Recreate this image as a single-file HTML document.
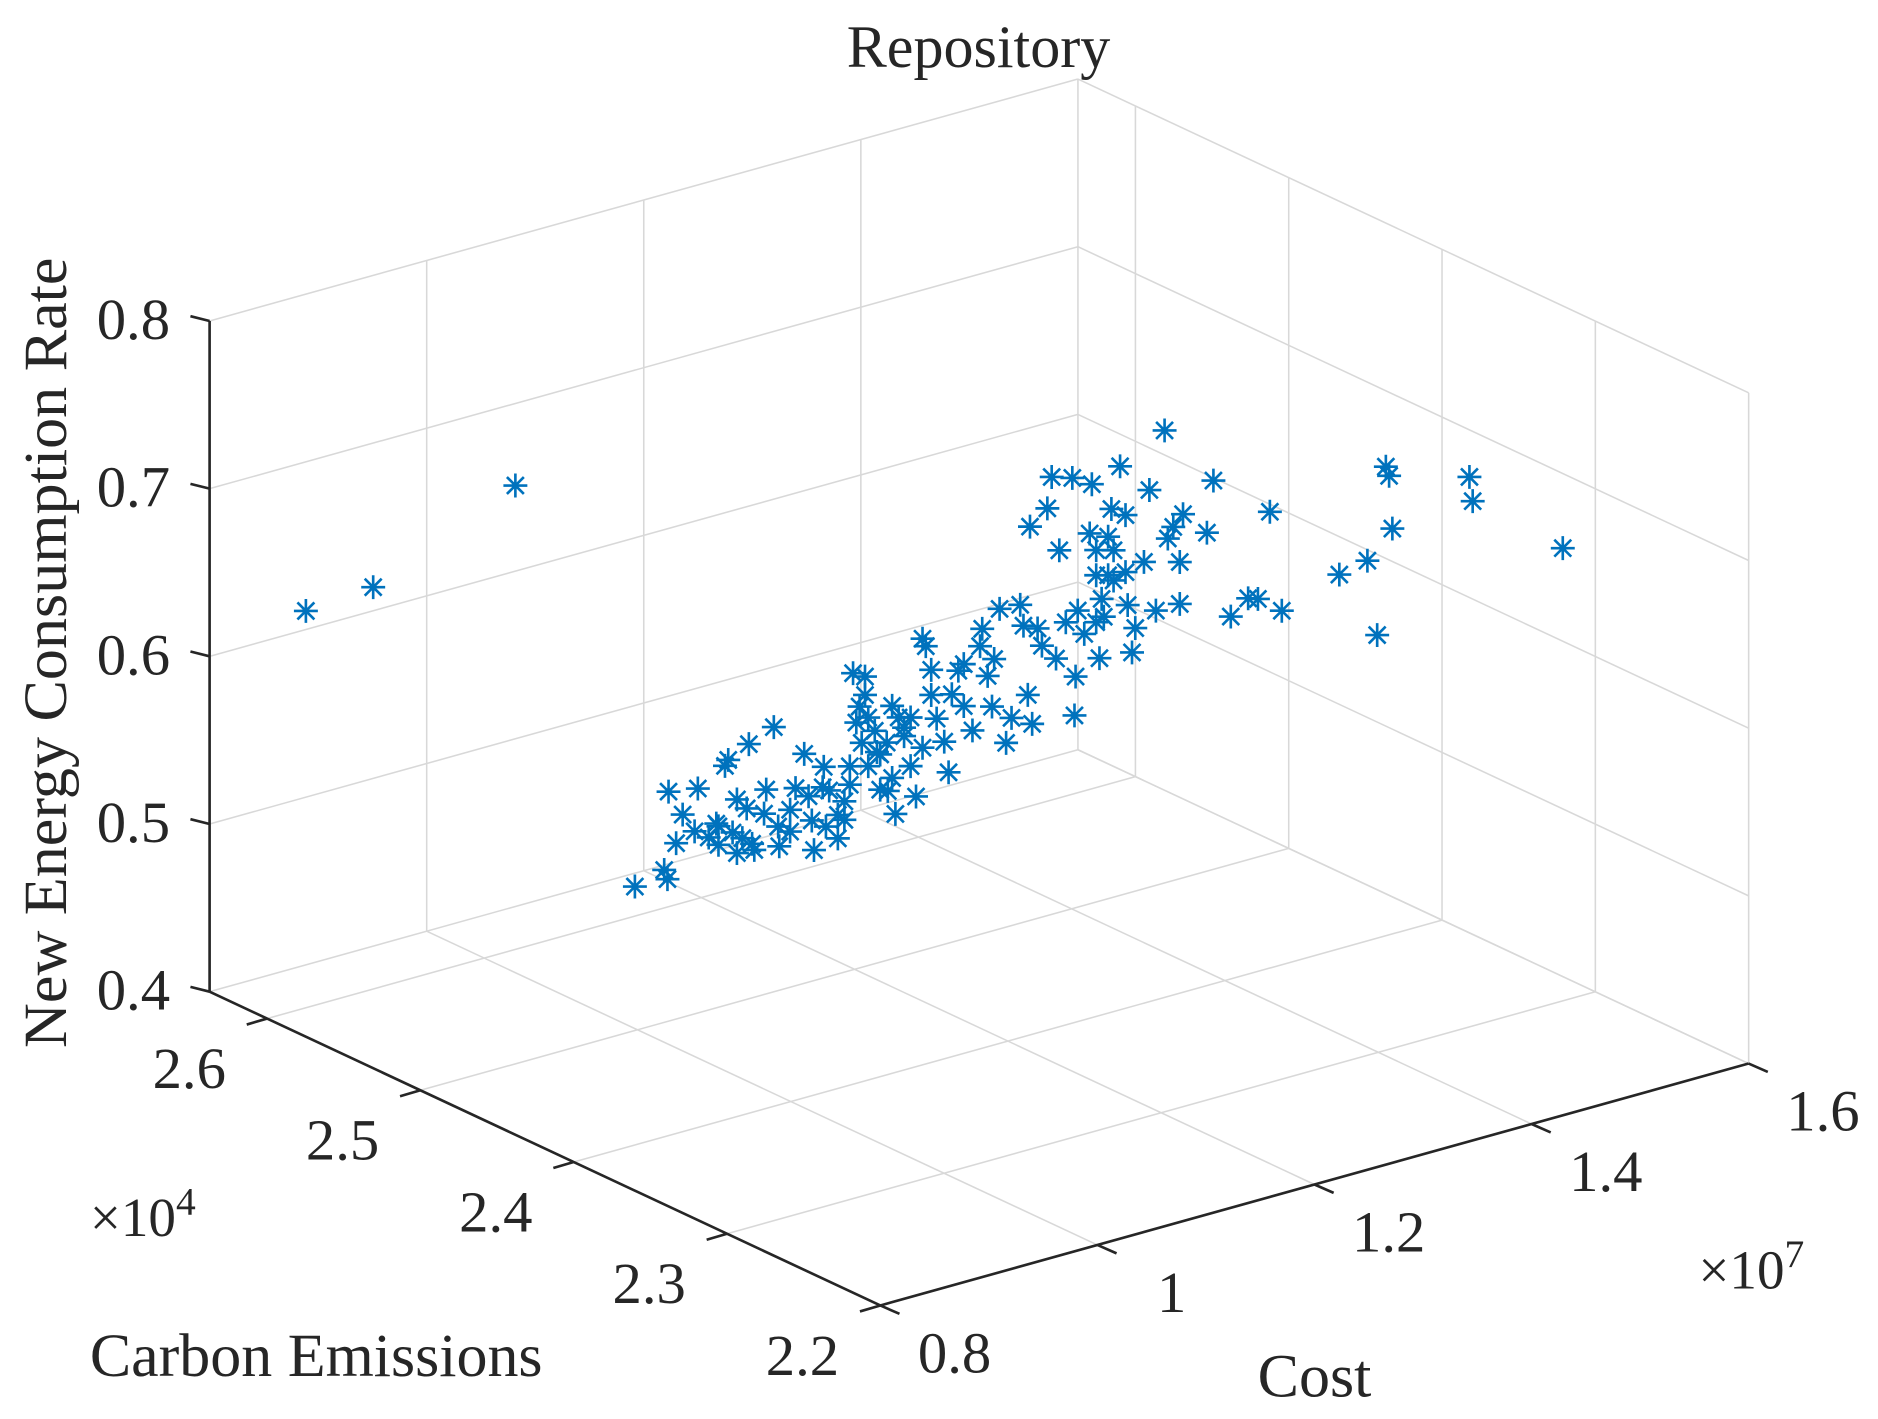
<!DOCTYPE html>
<html><head><meta charset="utf-8"><title>Repository</title>
<style>
html,body{margin:0;padding:0;background:#fff;}
svg{display:block;}
text{font-family:"Liberation Serif","DejaVu Serif",serif;fill:#262626;}
</style></head>
<body>
<svg id="chart" width="1878" height="1419" viewBox="0 0 1568 1184.8" preserveAspectRatio="none" xmlns="http://www.w3.org/2000/svg">
<rect x="0" y="0" width="1568" height="1184.8" fill="#fff"/>
<g id="grid"></g>
<g id="axes"></g>
<g id="labels"></g>
<g id="marks"></g>
<text x="817" y="56" font-size="50" text-anchor="middle" textLength="220" lengthAdjust="spacingAndGlyphs">Repository</text>
<text transform="translate(55,545) rotate(-90)" font-size="51" text-anchor="middle" textLength="660" lengthAdjust="spacingAndGlyphs">New Energy Consumption Rate</text>
<text x="75" y="1149" font-size="51" textLength="378" lengthAdjust="spacingAndGlyphs">Carbon Emissions</text>
<text x="1050" y="1166" font-size="51" textLength="95" lengthAdjust="spacingAndGlyphs">Cost</text>
<text x="75" y="1032" font-size="46">×10<tspan dy="-18" font-size="33">4</tspan></text>
<text x="1418" y="1076" font-size="46">×10<tspan dy="-18" font-size="33">7</tspan></text>
</svg>
<script>
// Axis limits
const costLim = [0.8, 1.6];
const carbonLim = [2.2, 2.6375];
const rateLim = [0.4, 0.8];
// Tick labels
const costTicks = [0.8, 1.0, 1.2, 1.4, 1.6];
const costTickLabels = ["0.8", "1", "1.2", "1.4", "1.6"];
const carbonTicks = [2.2, 2.3, 2.4, 2.5, 2.6];
const carbonTickLabels = ["2.2", "2.3", "2.4", "2.5", "2.6"];
const rateTicks = [0.4, 0.5, 0.6, 0.7, 0.8];
const rateTickLabels = ["0.4", "0.5", "0.6", "0.7", "0.8"];
// Data series (cost x1e7, carbon x1e4, rate)
const costData = [0.864,0.926,1.057,
0.927,0.954,0.957,0.965,0.958,0.971,0.985,1.002,1.010,1.013,1.032,1.055,0.995,1.004,1.021,1.017,1.026,1.035,1.037,1.021,1.046,1.070,1.075,1.083,1.092,1.101,1.106,1.103,1.114,1.120,1.125,1.128,1.139,1.139,1.131,1.136,1.142,1.148,1.153,1.159,1.164,1.167,1.170,1.175,1.181,1.186,1.192,1.195,1.200,1.205,1.212,1.216,1.219,1.225,1.230,1.238,1.245,1.247,1.252,1.256,1.263,1.258,1.269,1.274,1.282,1.285,1.289,1.293,1.291,1.298,1.302,1.311,1.307,1.318,1.315,1.324,1.330,1.333,1.332,1.341,1.346,1.348,1.352,1.355,1.357,1.359,1.363,1.366,1.368,1.374,1.379,1.379,1.381,1.385,1.388,1.396,1.401,1.407,1.415,1.418,1.423,1.429,1.429,1.432,1.454,1.460,1.476,1.492,1.501,1.512,1.523,1.576,
1.390,1.399,1.407,1.410,1.413,1.484,1.487,1.570,
1.335,1.352,1.368,1.059,1.087,1.114,1.134,1.153,1.181,1.164,1.048,1.004,0.982,1.142,1.192,1.230,1.352,1.363,
1.070,1.100,1.125,1.150,1.175,1.200,1.090,1.120,1.160,1.030,1.060];
const carbonData = [2.62,2.62,2.62,
2.45,2.45,2.45,2.45,2.45,2.45,2.45,2.45,2.45,2.45,2.45,2.45,2.45,2.45,2.45,2.45,2.45,2.45,2.45,2.45,2.45,2.45,2.45,2.45,2.45,2.45,2.45,2.45,2.45,2.45,2.45,2.45,2.45,2.45,2.45,2.45,2.45,2.45,2.45,2.45,2.45,2.45,2.45,2.45,2.45,2.45,2.45,2.45,2.45,2.45,2.45,2.45,2.45,2.45,2.45,2.45,2.45,2.45,2.45,2.45,2.45,2.45,2.45,2.45,2.45,2.45,2.45,2.45,2.45,2.45,2.45,2.45,2.45,2.45,2.45,2.45,2.45,2.45,2.45,2.45,2.45,2.45,2.45,2.45,2.45,2.45,2.45,2.45,2.45,2.45,2.45,2.45,2.45,2.45,2.45,2.45,2.45,2.45,2.45,2.45,2.45,2.45,2.45,2.45,2.45,2.45,2.45,2.45,2.45,2.45,2.45,2.45,
2.30,2.30,2.30,2.30,2.30,2.30,2.30,2.30,
2.45,2.45,2.45,2.45,2.45,2.45,2.45,2.45,2.45,2.45,2.45,2.45,2.45,2.45,2.45,2.45,2.45,2.45,
2.45,2.45,2.45,2.45,2.45,2.45,2.45,2.45,2.45,2.45,2.45];
const rateData = [0.623,0.626,0.663,
0.520,0.525,0.519,0.539,0.571,0.555,0.568,0.544,0.577,0.580,0.586,0.592,0.537,0.542,0.555,0.536,0.531,0.526,0.522,0.523,0.542,0.527,0.552,0.571,0.512,0.560,0.545,0.524,0.529,0.536,0.545,0.611,0.607,0.596,0.581,0.568,0.553,0.573,0.558,0.564,0.542,0.520,0.577,0.565,0.546,0.527,0.620,0.615,0.600,0.570,0.555,0.536,0.582,0.595,0.573,0.557,0.606,0.616,0.587,0.568,0.625,0.596,0.544,0.558,0.624,0.611,0.569,0.551,0.669,0.607,0.596,0.695,0.677,0.650,0.586,0.606,0.691,0.572,0.549,0.596,0.655,0.684,0.629,0.579,0.614,0.603,0.627,0.666,0.641,0.690,0.660,0.626,0.606,0.577,0.591,0.629,0.671,0.598,0.704,0.639,0.645,0.598,0.623,0.651,0.636,0.666,0.582,0.590,0.588,0.638,0.577,0.589,
0.695,0.649,0.748,0.742,0.710,0.728,0.713,0.670,
0.611,0.601,0.623,0.532,0.545,0.515,0.590,0.537,0.575,0.585,0.556,0.531,0.543,0.582,0.555,0.598,0.644,0.650,
0.540,0.548,0.556,0.560,0.570,0.585,0.530,0.525,0.535,0.548,0.520];

const NS = "http://www.w3.org/2000/svg";
const O = [735, 1090], VC = [725, -202], VE = [-560, -262], ZH = 560;
function proj(c, e, z) {
  const fc = (c - costLim[0]) / (costLim[1] - costLim[0]);
  const fe = (e - carbonLim[0]) / (carbonLim[1] - carbonLim[0]);
  const fz = (z - rateLim[0]) / (rateLim[1] - rateLim[0]);
  return [O[0] + fc * VC[0] + fe * VE[0], O[1] + fc * VC[1] + fe * VE[1] - fz * ZH];
}
function line(g, a, b, stroke, w) {
  const l = document.createElementNS(NS, "line");
  l.setAttribute("x1", a[0]); l.setAttribute("y1", a[1]);
  l.setAttribute("x2", b[0]); l.setAttribute("y2", b[1]);
  l.setAttribute("stroke", stroke); l.setAttribute("stroke-width", w);
  g.appendChild(l);
  return l;
}
function label(g, x, y, s, anchor) {
  const t = document.createElementNS(NS, "text");
  t.setAttribute("x", x); t.setAttribute("y", y);
  t.setAttribute("font-size", "49");
  t.setAttribute("text-anchor", anchor || "middle");
  t.textContent = s;
  g.appendChild(t);
  return t;
}
const grid = document.getElementById("grid");
const gc = "#d8d8d8", gw = 1.3;
const E1 = carbonLim[1], C1 = costLim[1], Z0 = rateLim[0], Z1 = rateLim[1];
costTicks.forEach(c => {
  let l = line(grid, proj(c, carbonLim[0], Z0), proj(c, E1, Z0), gc, gw);
  
  
  l = line(grid, proj(c, E1, Z0), proj(c, E1, Z1), gc, gw);
  
  
});
carbonTicks.forEach(e => {
  let l = line(grid, proj(costLim[0], e, Z0), proj(C1, e, Z0), gc, gw);
  
  
  l = line(grid, proj(C1, e, Z0), proj(C1, e, Z1), gc, gw);
  
  
});
rateTicks.forEach(z => {
  let l = line(grid, proj(costLim[0], E1, z), proj(C1, E1, z), gc, gw);
  
  
  l = line(grid, proj(C1, carbonLim[0], z), proj(C1, E1, z), gc, gw);
  
  
});
const axes = document.getElementById("axes");
const ac = "#262626", aw = 2.2;
let ax = line(axes, proj(costLim[0], E1, Z0), proj(costLim[0], E1, Z1), ac, aw);


ax = line(axes, proj(costLim[0], E1, Z0), proj(costLim[0], carbonLim[0], Z0), ac, aw);


ax = line(axes, proj(costLim[0], carbonLim[0], Z0), proj(C1, carbonLim[0], Z0), ac, aw);


const labels = document.getElementById("labels");
rateTicks.forEach((z, i) => {
  const p = proj(costLim[0], E1, z);
  const t = line(axes, p, [p[0] - 16, p[1] - 4], ac, aw);
  
  
  const lb = label(labels, p[0] - 33, p[1] + 15, rateTickLabels[i], "end");
  
  
});
carbonTicks.forEach((e, i) => {
  const p = proj(costLim[0], e, Z0);
  const t = line(axes, p, [p[0] - 17, p[1] + 5], ac, aw);
  
  
  const lb = label(labels, p[0] - 65, p[1] + 58, carbonTickLabels[i]);
  
  
});
costTicks.forEach((c, i) => {
  const p = proj(c, carbonLim[0], Z0);
  const t = line(axes, p, [p[0] + 16, p[1] + 7], ac, aw);
  
  
  const lb = label(labels, p[0] + 62, p[1] + 56, costTickLabels[i]);
  
  
});
const marks = document.getElementById("marks");
const mc = "#0072BD", r = 10;
for (let i = 0; i < costData.length; i++) {
  const p = proj(costData[i], carbonData[i], rateData[i]);
  const g = document.createElementNS(NS, "path");
  const d = r * 0.7071;
  g.setAttribute("d",
    `M${p[0]-r},${p[1]}H${p[0]+r}M${p[0]},${p[1]-r}V${p[1]+r}` +
    `M${p[0]-d},${p[1]-d}L${p[0]+d},${p[1]+d}M${p[0]-d},${p[1]+d}L${p[0]+d},${p[1]-d}`);
  g.setAttribute("stroke", mc);
  g.setAttribute("stroke-width", "2.2");
  g.setAttribute("fill", "none");
  
  
  marks.appendChild(g);
}
</script>
</body></html>
